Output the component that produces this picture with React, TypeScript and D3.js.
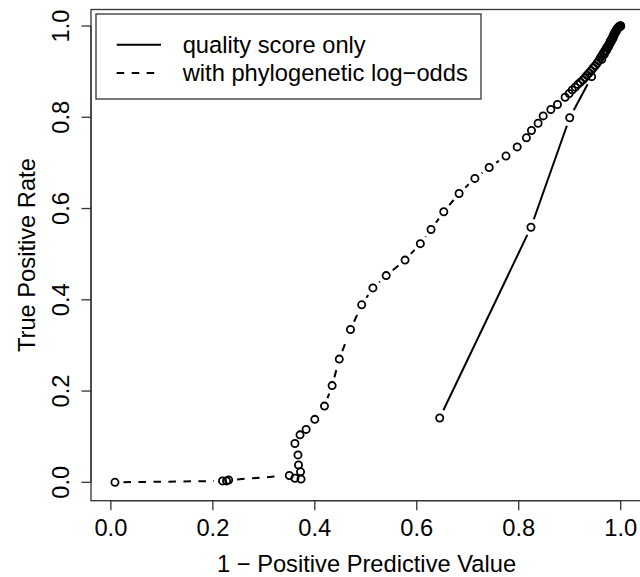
import React from 'react'
import * as d3 from 'd3'

// Series 1: quality score only (solid)
const qualityFpr = [0.645, 0.824, 0.9, 0.943, 0.963, 0.968, 0.972, 0.976, 0.979, 0.982, 0.985, 0.987, 0.989, 0.991, 0.993, 0.995, 0.997, 0.999, 1.0]
const qualityTpr = [0.141, 0.559, 0.799, 0.889, 0.927, 0.938, 0.946, 0.954, 0.961, 0.967, 0.973, 0.979, 0.984, 0.988, 0.992, 0.995, 0.998, 1.0, 1.0]

// Series 2: with phylogenetic log-odds (dashed)
const phyloFpr = [
  0.008, 0.219, 0.227, 0.231, 0.35, 0.361, 0.373, 0.372, 0.368, 0.367, 0.361, 0.371, 0.383, 0.4, 0.419,
  0.434, 0.448, 0.47, 0.492, 0.514, 0.54, 0.577, 0.607, 0.628, 0.653, 0.683, 0.714, 0.742, 0.775, 0.797,
  0.815, 0.825, 0.838, 0.848, 0.863, 0.876, 0.891, 0.899, 0.905, 0.911, 0.916, 0.921, 0.926, 0.93, 0.934,
  0.938, 0.942, 0.946, 0.95, 0.954, 0.957, 0.96, 0.963, 0.966, 0.969, 0.972, 0.975, 0.978, 0.98, 0.983,
  0.985, 0.987, 0.989, 0.991, 0.993, 0.995, 0.997, 0.999, 1.0,
]
const phyloTpr = [
  0.0, 0.003, 0.003, 0.005, 0.015, 0.009, 0.007, 0.023, 0.038, 0.06, 0.085, 0.104, 0.116, 0.138, 0.167,
  0.212, 0.27, 0.335, 0.389, 0.426, 0.453, 0.487, 0.523, 0.554, 0.593, 0.633, 0.666, 0.69, 0.715, 0.735,
  0.755, 0.771, 0.787, 0.803, 0.817, 0.828, 0.844, 0.852, 0.86, 0.866, 0.872, 0.877, 0.882, 0.887, 0.892,
  0.897, 0.902, 0.908, 0.913, 0.919, 0.924, 0.93, 0.935, 0.941, 0.946, 0.952, 0.957, 0.963, 0.968, 0.973,
  0.978, 0.983, 0.987, 0.991, 0.994, 0.997, 0.999, 1.0, 1.0,
]

const xTicks = [0, 0.2, 0.4, 0.6, 0.8, 1.0]
const yTicks = [0, 0.2, 0.4, 0.6, 0.8, 1.0]
const legendLabels = ['quality score only', 'with phylogenetic log\u2212odds']

const W = 640
const H = 577
const FONT = '"Liberation Sans", Arial, Helvetica, sans-serif'
const FS = 23.7
const LW = 2
const GAP = 8.5

const x = d3.scaleLinear().domain([-0.039, 1.0418]).range([91, 642])
const y = d3.scaleLinear().domain([-0.0403, 1.0362]).range([500.7, 9.5])

// R type="b": segments between points, shortened so they stop short of the symbols
function segments(xs: number[], ys: number[]) {
  const out: [number, number, number, number][] = []
  for (let i = 0; i < xs.length - 1; i++) {
    const x0 = x(xs[i]), y0 = y(ys[i]), x1 = x(xs[i + 1]), y1 = y(ys[i + 1])
    const d = Math.hypot(x1 - x0, y1 - y0)
    if (d <= 2 * GAP) continue
    const f = GAP / d
    out.push([x0 + (x1 - x0) * f, y0 + (y1 - y0) * f, x1 - (x1 - x0) * f, y1 - (y1 - y0) * f])
  }
  return out
}

function Series({ xs, ys, dash }: { xs: number[]; ys: number[]; dash?: string }) {
  return (
    <g>
      {segments(xs, ys).map((s, i) => (
        <line key={i} x1={s[0]} y1={s[1]} x2={s[2]} y2={s[3]} stroke="#000" strokeWidth={LW} strokeDasharray={dash} />
      ))}
      {xs.map((v, i) => (
        <circle key={'p' + i} cx={x(v)} cy={y(ys[i])} r={3.6} fill="none" stroke="#000" strokeWidth={1.8} />
      ))}
    </g>
  )
}

export default function App() {
  const [bx0, bx1] = x.range()
  const [by1, by0] = y.range()
  return (
    <svg width={W} height={H} style={{ position: 'absolute', left: 0, top: 0, background: '#fff' }} fontFamily={FONT}>
      <rect x={0} y={0} width={W} height={H} fill="#fff" />
      <rect x={bx0} y={by0} width={bx1 - bx0} height={by1 - by0} fill="none" stroke="#333" strokeWidth={1.3} />

      {/* x axis */}
      <line x1={x(0)} x2={x(1)} y1={by1} y2={by1} stroke="#333" strokeWidth={1.3} />
      {xTicks.map((t) => (
        <g key={'x' + t}>
          <line x1={x(t)} x2={x(t)} y1={by1} y2={by1 + 9.5} stroke="#333" strokeWidth={1.3} />
          <text x={x(t)} y={535.5} fontSize={FS} textAnchor="middle">{t.toFixed(1)}</text>
        </g>
      ))}
      <text x={(bx0 + bx1) / 2} y={572} fontSize={FS} textAnchor="middle">1 {'\u2212'} Positive Predictive Value</text>

      {/* y axis */}
      <line x1={bx0} x2={bx0} y1={y(0)} y2={y(1)} stroke="#333" strokeWidth={1.3} />
      {yTicks.map((t) => (
        <g key={'y' + t}>
          <line x1={bx0} x2={bx0 - 9.5} y1={y(t)} y2={y(t)} stroke="#333" strokeWidth={1.3} />
          <text transform={`translate(68.5,${y(t)}) rotate(-90)`} fontSize={FS} textAnchor="middle">{t.toFixed(1)}</text>
        </g>
      ))}
      <text transform={`translate(34.5,${(by0 + by1) / 2}) rotate(-90)`} fontSize={FS} textAnchor="middle">True Positive Rate</text>

      <Series xs={qualityFpr} ys={qualityTpr} />
      <Series xs={phyloFpr} ys={phyloTpr} dash="7.5,7.5" />

      {/* legend */}
      <rect x={96} y={14} width={385} height={85} fill="#fff" stroke="#333" strokeWidth={1.3} />
      {legendLabels.map((lab, i) => (
        <g key={lab}>
          <line x1={116.7} x2={161} y1={44.7 + i * 28.3} y2={44.7 + i * 28.3} stroke="#000" strokeWidth={LW} strokeDasharray={i === 1 ? '7.5,7.5' : undefined} />
          <text x={182.7} y={53 + i * 28.3} fontSize={FS}>{lab}</text>
        </g>
      ))}
    </svg>
  )
}
